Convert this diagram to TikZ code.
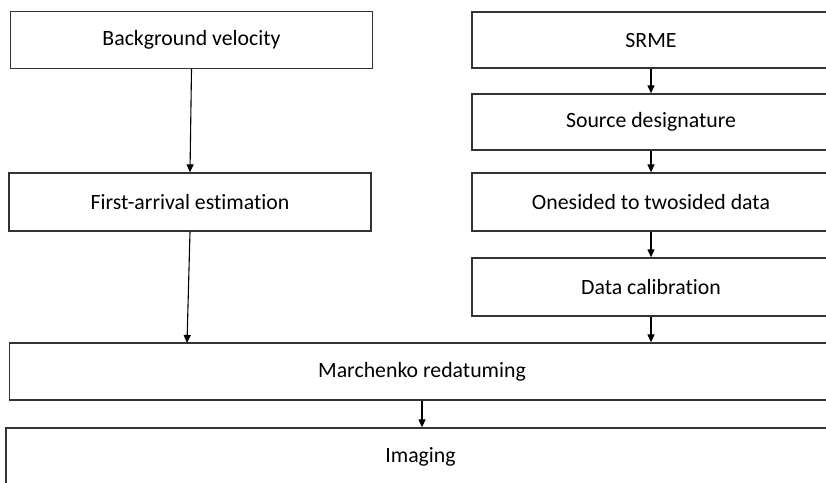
\documentclass[tikz,border=0pt]{standalone}
\usepackage{fontspec}
\setmainfont{Carlito}[Ligatures=NoCommon]
\usetikzlibrary{arrows.meta}
\begin{document}
\begin{tikzpicture}[x=1pt,y=-1pt,
  box/.style={draw=black!80,line width=1.3pt,rectangle,inner sep=0pt,
    font=\fontsize{21.8}{24}\selectfont,text=black},
  arr/.style={draw=black,line width=1.1pt,-{Triangle[length=8pt,width=7pt]}}]
\useasboundingbox (0,0) rectangle (826,482);
\clip (0,0) rectangle (826,482);
\node[box,minimum width=362pt,minimum height=57pt] (bv) at (191.5,40) {Background velocity};
\node[box,minimum width=362pt,minimum height=58pt] (fa) at (190,202) {First-arrival estimation};
\node[box,minimum width=358pt,minimum height=56pt] (srme) at (651,40) {SRME};
\node[box,minimum width=358pt,minimum height=56pt] (sd) at (651,122) {Source designature};
\node[box,minimum width=358pt,minimum height=58pt] (ot) at (651,202) {Onesided to twosided data};
\node[box,minimum width=358pt,minimum height=58pt] (dc) at (651,287) {Data calibration};
\node[box,minimum width=825pt,minimum height=57pt] (mr) at (422,371.5) {Marchenko redatuming};
\node[box,minimum width=829pt,minimum height=58pt] (im) at (420.5,457) {Imaging};
\coordinate (mrin) at (187,343);
\draw[arr] (bv.south) -- (fa.north);
\draw[arr] (fa.south) -- (mrin);
\draw[arr] (srme.south) -- (sd.north);
\draw[arr] (sd.south) -- (ot.north);
\draw[arr] (ot.south) -- (dc.north);
\draw[arr] (dc.south) -- (dc.south |- mr.north);
\draw[arr] (mr.south) -- (mr.south |- im.north);
\end{tikzpicture}
\end{document}
